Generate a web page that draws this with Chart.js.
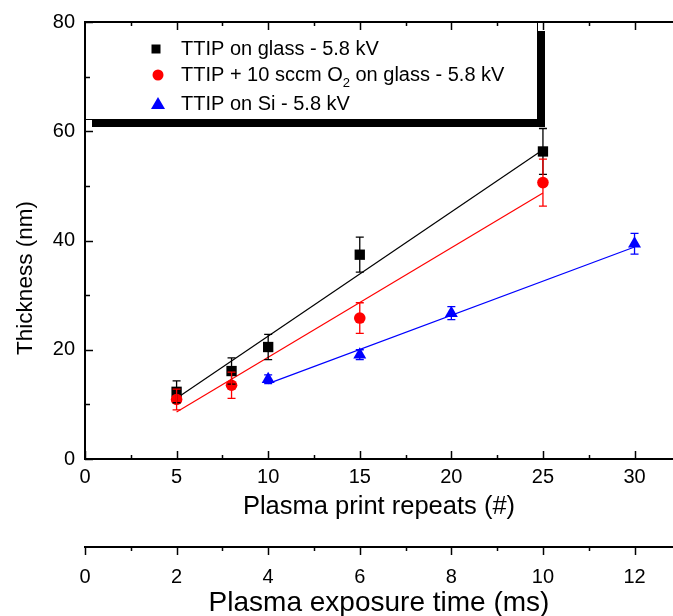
<!DOCTYPE html>
<html>
<head>
<meta charset="utf-8">
<title>Film thickness vs plasma print repeats</title>
<script src="https://cdn.jsdelivr.net/npm/chart.js@4"></script>
<style>
  html, body { margin: 0; padding: 0; background: #fff; }
  #wrap { width: 673px; height: 616px; }
</style>
</head>
<body>
<div id="wrap"><canvas id="thicknessChart" width="673" height="616"></canvas></div>
<script>
const FONT = "'Liberation Sans', Arial, sans-serif";

// TTIP on glass
const glassRepeats = [5, 8, 10, 15, 25];
const glassThickness = [12.3, 16.1, 20.5, 37.4, 56.3];
const glassError = [2.0, 2.4, 2.3, 3.2, 4.2];

// TTIP + O2 on glass
const o2Repeats = [5, 8, 15, 25];
const o2Thickness = [10.9, 13.5, 25.8, 50.6];
const o2Error = [1.9, 2.4, 2.8, 4.3];

// TTIP on Si
const siRepeats = [10, 15, 20, 30];
const siThickness = [14.6, 19.1, 26.7, 39.4];
const siError = [0.8, 0.9, 1.2, 1.9];

// linear fits (end points)
const glassFitX = [5, 25];
const glassFitY = [11.1, 56.6];
const o2FitX = [5, 25];
const o2FitY = [8.6, 48.7];
const siFitX = [10, 30];
const siFitY = [13.8, 38.8];

// axes
const repeatTicks = [0, 5, 10, 15, 20, 25, 30];
const timeTicks = [0, 2, 4, 6, 8, 10, 12];
const thicknessTicks = [0, 20, 40, 60, 80];
const repeatMax = 32.1;
const msPerRepeat = 0.4;

function points(xs, ys) {
    return xs.map(function(x, i) { return { x: x, y: ys[i] }; });
}

function minorTicks(major, max) {
    const step = major[1] - major[0];
    const out = [];
    for (let v = major[0] + step / 2; v < max; v += step) out.push(v);
    return out;
}

// bottom axes run right up to the canvas edge
function fitBottom(height) {
    return function(s) {
        s.height = height;
        s.paddingLeft = 0;
        s.paddingRight = 0;
    };
}

// vertical error bars, drawn over the markers
const errorBars = {
    id: 'errorBars',
    afterDatasetsDraw(chart) {
        const ctx = chart.ctx;
        const xs = chart.scales.x, ys = chart.scales.y;
        ctx.save();
        chart.data.datasets.forEach(function(ds) {
            if (!ds.errors) return;
            ctx.strokeStyle = ds.borderColor;
            ctx.lineWidth = 1.3;
            ds.data.forEach(function(p, i) {
                const px = xs.getPixelForValue(p.x);
                const top = ys.getPixelForValue(p.y + ds.errors[i]);
                const bot = ys.getPixelForValue(p.y - ds.errors[i]);
                ctx.beginPath();
                ctx.moveTo(px, top); ctx.lineTo(px, bot);
                ctx.moveTo(px - 4, top); ctx.lineTo(px + 4, top);
                ctx.moveTo(px - 4, bot); ctx.lineTo(px + 4, bot);
                ctx.stroke();
            });
        });
        ctx.restore();
    }
};

// legend box with drop shadow, frame, inward/outward ticks, y title
const frame = {
    id: 'frame',
    afterDraw(chart) {
        const ctx = chart.ctx;
        const area = chart.chartArea;
        const sx = chart.scales.x, sy = chart.scales.y, s2 = chart.scales.x2;
        ctx.save();

        // legend
        const lw = 453, lh = 98, sh = 7;
        ctx.fillStyle = '#000';
        ctx.fillRect(area.left + sh, area.top + lh, lw, sh);
        ctx.fillRect(area.left + lw, area.top + 9, sh, lh + sh - 9);
        ctx.fillStyle = '#fff';
        ctx.fillRect(area.left, area.top, lw, lh);
        ctx.strokeStyle = '#000';
        ctx.lineWidth = 1;
        ctx.strokeRect(area.left + 0.5, area.top + 0.5, lw - 1, lh - 1);

        const mx = area.left + 71, tx = area.left + 96;
        const rows = [area.top + 27, area.top + 53, area.top + 82];
        ctx.textBaseline = 'middle';
        ctx.textAlign = 'left';
        chart.data.datasets.forEach(function(ds) {
            if (ds.legendRow === undefined) return;
            const y = rows[ds.legendRow];
            ctx.fillStyle = ds.backgroundColor;
            ctx.beginPath();
            if (ds.pointStyle === 'rect') {
                ctx.rect(mx - 4.5, y - 4.5, 9, 9);
            } else if (ds.pointStyle === 'circle') {
                ctx.arc(mx + 2, y, 5.5, 0, Math.PI * 2);
            } else {
                ctx.moveTo(mx + 2, y - 7);
                ctx.lineTo(mx + 9, y + 5);
                ctx.lineTo(mx - 5, y + 5);
                ctx.closePath();
            }
            ctx.fill();
            ctx.fillStyle = '#000';
            let x = tx;
            ds.legendText.forEach(function(part, k) {
                const sub = k % 2 === 1;
                ctx.font = (sub ? '13px ' : '20px ') + FONT;
                ctx.fillText(part, x, sub ? y + 8 : y);
                x += ctx.measureText(part).width;
            });
        });

        // top frame
        ctx.strokeStyle = '#000';
        ctx.lineWidth = 2;
        ctx.beginPath();
        ctx.moveTo(area.left, area.top);
        ctx.lineTo(area.right, area.top);
        ctx.stroke();

        function hTicks(scale, values, y, len) {
            values.forEach(function(v) {
                const px = Math.round(scale.getPixelForValue(v)) + 0.5;
                ctx.beginPath();
                ctx.moveTo(px, y);
                ctx.lineTo(px, y + len);
                ctx.stroke();
            });
        }
        ctx.lineWidth = 1.5;
        const repMinor = minorTicks(repeatTicks, repeatMax);
        hTicks(sx, repeatTicks, area.bottom, -8);
        hTicks(sx, repMinor, area.bottom, -4);
        hTicks(sx, repeatTicks.filter(function(v) { return v > 0; }), area.top, 8);
        hTicks(sx, repMinor, area.top, 4);
        hTicks(s2, timeTicks, s2.top, 8);
        hTicks(s2, minorTicks(timeTicks, repeatMax * msPerRepeat), s2.top, 4);

        thicknessTicks.concat(minorTicks(thicknessTicks, 80)).forEach(function(v) {
            const major = thicknessTicks.indexOf(v) >= 0;
            const py = Math.round(sy.getPixelForValue(v)) + 0.5;
            ctx.beginPath();
            ctx.moveTo(area.left, py);
            ctx.lineTo(area.left + (major ? 8 : 5), py);
            ctx.stroke();
        });

        // y axis title
        ctx.fillStyle = '#000';
        ctx.font = '22.5px ' + FONT;
        ctx.textAlign = 'center';
        ctx.textBaseline = 'middle';
        ctx.translate(26, area.bottom - 181);
        ctx.rotate(-Math.PI / 2);
        ctx.fillText('Thickness (nm)', 0, 0);
        ctx.restore();
    }
};

const tickFont = { family: FONT, size: 20 };

new Chart(document.getElementById('thicknessChart'), {
    type: 'scatter',
    data: {
        datasets: [
            {
                label: 'TTIP on glass - 5.8 kV',
                legendText: ['TTIP on glass - 5.8 kV'],
                legendRow: 0,
                data: points(glassRepeats, glassThickness),
                errors: glassError,
                pointStyle: 'rect',
                pointRadius: 7.3,
                backgroundColor: '#000000',
                borderColor: '#000000',
                borderWidth: 0,
                order: 3
            },
            {
                label: 'TTIP + 10 sccm O2 on glass - 5.8 kV',
                legendText: ['TTIP + 10 sccm O', '2', ' on glass - 5.8 kV'],
                legendRow: 1,
                data: points(o2Repeats, o2Thickness),
                errors: o2Error,
                pointStyle: 'circle',
                pointRadius: 5.8,
                backgroundColor: '#ff0000',
                borderColor: '#ff0000',
                borderWidth: 0,
                order: 2
            },
            {
                label: 'TTIP on Si - 5.8 kV',
                legendText: ['TTIP on Si - 5.8 kV'],
                legendRow: 2,
                data: points(siRepeats, siThickness),
                errors: siError,
                pointStyle: 'triangle',
                pointRadius: 7.5,
                backgroundColor: '#0000ff',
                borderColor: '#0000ff',
                borderWidth: 0,
                order: 1
            },
            {
                data: points(glassFitX, glassFitY),
                showLine: true, pointRadius: 0,
                borderColor: '#000000', borderWidth: 1.2, order: 10
            },
            {
                data: points(o2FitX, o2FitY),
                showLine: true, pointRadius: 0,
                borderColor: '#ff0000', borderWidth: 1.2, order: 10
            },
            {
                data: points(siFitX, siFitY),
                showLine: true, pointRadius: 0,
                borderColor: '#0000ff', borderWidth: 1.2, order: 10
            }
        ]
    },
    options: {
        responsive: false,
        animation: false,
        layout: { autoPadding: false, padding: { top: 21, right: 0, bottom: 0, left: 0 } },
        plugins: { legend: { display: false }, tooltip: { enabled: false } },
        scales: {
            x: {
                type: 'linear',
                position: 'bottom',
                weight: 0,
                min: 0,
                max: repeatMax,
                afterBuildTicks: function(s) { s.ticks = repeatTicks.map(function(v) { return { value: v }; }); },
                afterFit: fitBottom(88),
                grid: { display: false, drawTicks: false },
                border: { display: true, color: '#000', width: 2 },
                ticks: { color: '#000', font: tickFont, padding: 6, maxRotation: 0 },
                title: {
                    display: true, text: 'Plasma print repeats (#)', color: '#000',
                    font: { family: FONT, size: 25.5 }, padding: { top: 0, bottom: 25 }
                }
            },
            x2: {
                type: 'linear',
                position: 'bottom',
                weight: 1,
                min: 0,
                max: repeatMax * msPerRepeat,
                afterBuildTicks: function(s) { s.ticks = timeTicks.map(function(v) { return { value: v }; }); },
                afterFit: fitBottom(69),
                grid: { display: false, drawTicks: false },
                border: { display: true, color: '#000', width: 2 },
                ticks: { color: '#000', font: tickFont, padding: 18, maxRotation: 0 },
                title: {
                    display: true, text: 'Plasma exposure time (ms)', color: '#000',
                    font: { family: FONT, size: 28 }, padding: { top: 0, bottom: -4 }
                }
            },
            y: {
                type: 'linear',
                position: 'left',
                min: 0,
                max: 80,
                afterBuildTicks: function(s) { s.ticks = thicknessTicks.map(function(v) { return { value: v }; }); },
                afterFit: function(s) { s.width = 85; },
                grid: { display: false, drawTicks: false },
                border: { display: true, color: '#000', width: 2 },
                ticks: { color: '#000', font: tickFont, padding: 10 }
            }
        }
    },
    plugins: [errorBars, frame]
});
</script>
</body>
</html>
